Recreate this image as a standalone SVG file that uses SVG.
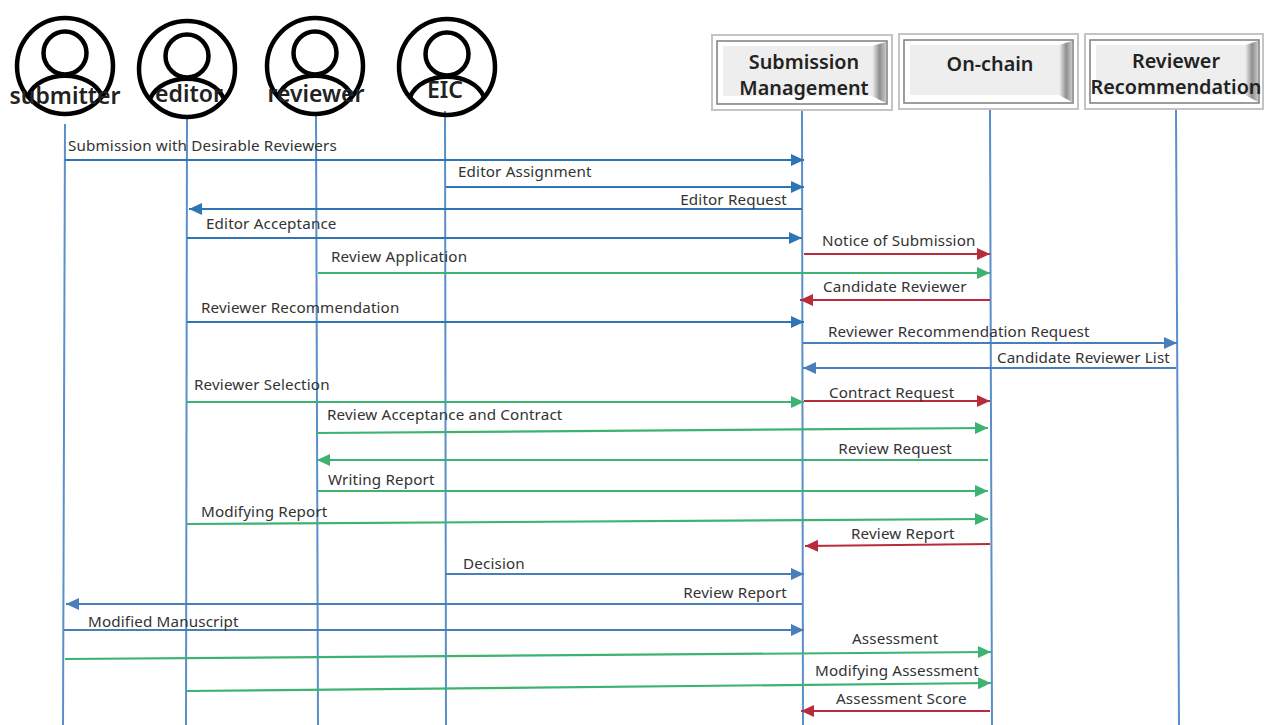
<svg xmlns="http://www.w3.org/2000/svg" width="1264" height="725" viewBox="0 0 1264 725">
<style>
text{font-family:"Noto Sans","Open Sans","Liberation Sans",sans-serif;fill:#333}
.m{font-size:15.2px;letter-spacing:.15px}
.a{font-size:23px;font-weight:600;fill:#222;text-anchor:middle}
.b{font-size:19.8px;font-weight:600;fill:#222;text-anchor:middle}
.e{text-anchor:end}
.ring{fill:none;stroke:#000;stroke-width:4.5}
.ll{fill:none;stroke:#5b8fc9;stroke-width:2}
.c{fill:none;stroke-width:2.2}
.bl{stroke:#2e75b6}.st{stroke:#4a7ebb}.rd{stroke:#b92b3b}.gr{stroke:#3cb371}
.outer{fill:#fff;stroke:#c4c4c4;stroke-width:2}
.inner{fill:#fff;stroke:#7d7d7d;stroke-width:1.5}
.face{fill:#eee}
.dk{fill:url(#bevel)}
</style>
<defs>
<linearGradient id="bevel" x1="0" x2="1" y1="0" y2="0"><stop offset="0" stop-color="#f2f2f2"/><stop offset=".55" stop-color="#8e8e8e"/><stop offset="1" stop-color="#c8c8c8"/></linearGradient>
<marker id="mb" markerUnits="userSpaceOnUse" markerWidth="14" markerHeight="14" refX="13" refY="7" orient="auto"><path d="M0 1L13 7L0 13Z" fill="#2e75b6"/></marker>
<marker id="ms" markerUnits="userSpaceOnUse" markerWidth="14" markerHeight="14" refX="13" refY="7" orient="auto"><path d="M0 1L13 7L0 13Z" fill="#4a7ebb"/></marker>
<marker id="mr" markerUnits="userSpaceOnUse" markerWidth="14" markerHeight="14" refX="13" refY="7" orient="auto"><path d="M0 1L13 7L0 13Z" fill="#b92b3b"/></marker>
<marker id="mg" markerUnits="userSpaceOnUse" markerWidth="14" markerHeight="14" refX="13" refY="7" orient="auto"><path d="M0 1L13 7L0 13Z" fill="#3cb371"/></marker>
<g id="person"><circle cx="0" cy="0" r="48" class="ring"/><circle cx="0" cy="-13" r="21.5" class="ring"/><path d="M-37 30C-25 3 25 3 37 30" class="ring"/></g>
</defs>
<g id="lifelines">
<path class="ll" d="M65 124L63 725M187 118L186 725M316 116L318 725M445 111L446 725M802 111L803 725M990 110L992 725M1176 110L1179 725"/>
</g>
<g id="connectors">
<path class="c bl" marker-end="url(#mb)" d="M65 160H804"/>
<path class="c bl" marker-end="url(#mb)" d="M446 187H804"/>
<path class="c bl" marker-end="url(#mb)" d="M802 209H189"/>
<path class="c bl" marker-end="url(#mb)" d="M187 238H802"/>
<path class="c rd" marker-end="url(#mr)" d="M804 254H990"/>
<path class="c gr" marker-end="url(#mg)" d="M318 273H990"/>
<path class="c rd" marker-end="url(#mr)" d="M990 300H800"/>
<path class="c bl" marker-end="url(#mb)" d="M187 322H804"/>
<path class="c st" marker-end="url(#ms)" d="M803 343H1177"/>
<path class="c st" marker-end="url(#ms)" d="M1176 368H803"/>
<path class="c gr" marker-end="url(#mg)" d="M187 402H804"/>
<path class="c rd" marker-end="url(#mr)" d="M804 401H990"/>
<path class="c gr" marker-end="url(#mg)" d="M316 433L988 428"/>
<path class="c gr" marker-end="url(#mg)" d="M988 460H317"/>
<path class="c gr" marker-end="url(#mg)" d="M317 491H988"/>
<path class="c gr" marker-end="url(#mg)" d="M187 524L988 519"/>
<path class="c rd" marker-end="url(#mr)" d="M990 544L805 546"/>
<path class="c st" marker-end="url(#ms)" d="M445 574H804"/>
<path class="c st" marker-end="url(#ms)" d="M802 604H66"/>
<path class="c st" marker-end="url(#ms)" d="M64 630H804"/>
<path class="c gr" marker-end="url(#mg)" d="M65 659L991 652"/>
<path class="c gr" marker-end="url(#mg)" d="M187 691L991 683"/>
<path class="c rd" marker-end="url(#mr)" d="M990 711H801"/>
</g>
<g id="labels">
<text class="m" x="68" y="151">Submission with Desirable Reviewers</text>
<text class="m" x="458" y="177">Editor Assignment</text>
<text class="m e" x="787" y="205">Editor Request</text>
<text class="m" x="206" y="229">Editor Acceptance</text>
<text class="m" x="822" y="246">Notice of Submission</text>
<text class="m" x="331" y="262">Review Application</text>
<text class="m" x="823" y="292">Candidate Reviewer</text>
<text class="m" x="201" y="313">Reviewer Recommendation</text>
<text class="m" x="828" y="337">Reviewer Recommendation Request</text>
<text class="m e" x="1170" y="363">Candidate Reviewer List</text>
<text class="m" x="194" y="390">Reviewer Selection</text>
<text class="m" x="829" y="398">Contract Request</text>
<text class="m" x="327" y="420">Review Acceptance and Contract</text>
<text class="m e" x="952" y="454">Review Request</text>
<text class="m" x="328" y="485">Writing Report</text>
<text class="m" x="201" y="517">Modifying Report</text>
<text class="m" x="851" y="539">Review Report</text>
<text class="m" x="463" y="569">Decision</text>
<text class="m e" x="787" y="598">Review Report</text>
<text class="m" x="88" y="627">Modified Manuscript</text>
<text class="m" x="852" y="644">Assessment</text>
<text class="m" x="815" y="676">Modifying Assessment</text>
<text class="m" x="836" y="704">Assessment Score</text>
</g>
<g id="submitter"><use href="#person" x="65" y="66"/><text class="a" x="65" y="104">submitter</text></g>
<g id="editor"><use href="#person" x="187" y="69"/><text class="a" x="189" y="102">editor</text></g>
<g id="reviewer"><use href="#person" x="315" y="66"/><text class="a" x="316" y="102">reviewer</text></g>
<g id="eic"><use href="#person" x="447" y="67"/><text class="a" x="445" y="98">EIC</text></g>
<g id="submission-management">
<rect class="outer" x="712" y="35" width="180" height="75"/>
<rect class="inner" x="717" y="41" width="170" height="63"/>
<rect class="face" x="723" y="46" width="149" height="50"/>
<path class="dk" d="M886 42V103L872 96V46Z"/>
<text class="b" x="804" y="69">Submission</text><text class="b" x="804" y="95">Management</text>
</g>
<g id="on-chain">
<rect class="outer" x="899" y="34" width="179" height="75"/>
<rect class="inner" x="904" y="40" width="169" height="63"/>
<rect class="face" x="910" y="45" width="149" height="50"/>
<path class="dk" d="M1072 41V102L1059 95V45Z"/>
<text class="b" x="990" y="71">On-chain</text>
</g>
<g id="reviewer-recommendation">
<rect class="outer" x="1085" y="34" width="178" height="75"/>
<rect class="inner" x="1090" y="40" width="169" height="63"/>
<rect class="face" x="1096" y="45" width="149" height="50"/>
<path class="dk" d="M1258 41V102L1245 95V45Z"/>
<text class="b" x="1176" y="68">Reviewer</text><text class="b" x="1176" y="94">Recommendation</text>
</g>
</svg>
